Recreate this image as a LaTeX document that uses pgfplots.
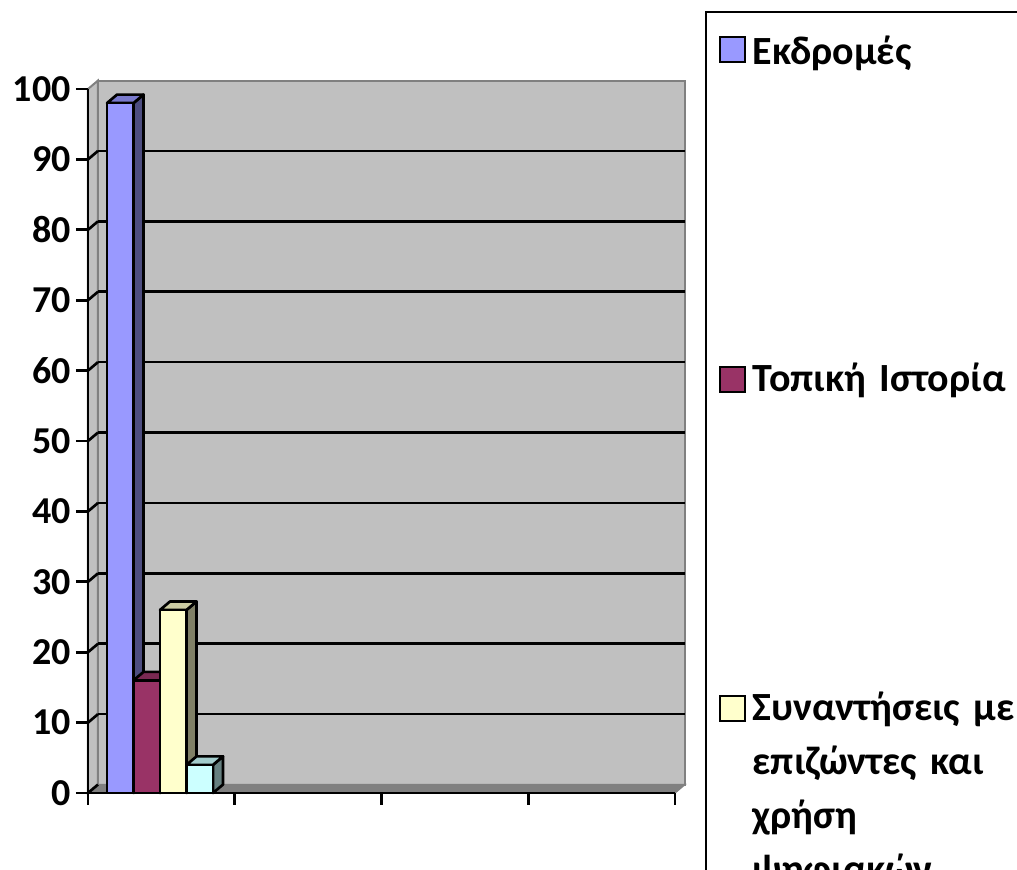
\documentclass[border=0pt]{standalone}
\usepackage{fontspec}
\setmainfont{Carlito}
\usepackage{pgfplots}
\pgfplotsset{compat=1.18}

\definecolor{bluefront}{HTML}{9999FF}
\definecolor{blueside}{HTML}{4D4D80}
\definecolor{bluetop}{HTML}{7A7ACC}
\definecolor{marfront}{HTML}{993366}
\definecolor{marside}{HTML}{4D1A33}
\definecolor{martop}{HTML}{7A2952}
\definecolor{yelfront}{HTML}{FFFFCC}
\definecolor{yelside}{HTML}{808066}
\definecolor{yeltop}{HTML}{CCCCA3}
\definecolor{cyafront}{HTML}{CCFFFF}
\definecolor{cyaside}{HTML}{668080}
\definecolor{cyatop}{HTML}{A3CCCC}
\definecolor{wallgray}{HTML}{C0C0C0}
\definecolor{floorgray}{HTML}{808080}

\newcommand{\ls}{\rule[-8pt]{0pt}{32pt}}

\begin{document}
\begin{tikzpicture}
\useasboundingbox (0,0) rectangle (762.75pt,652.5pt);
\begin{axis}[
  at={(66pt,57.75pt)}, anchor=south west,
  scale only axis, width=440.25pt, height=528pt,
  xmin=0, xmax=4, ymin=0, ymax=100,
  clip=false,
  axis on top,
  axis lines*=left,
  axis line style={line width=2pt, black},
  tick align=outside,
  major tick length=9pt,
  tick style={line width=2pt, black},
  xtick={0,1,2,3,4}, xticklabels={},
  ytick={0,10,...,100},
  yticklabel style={font=\fontsize{28.5}{28.5}\selectfont\bfseries, anchor=east, inner sep=0pt, xshift=-3.75pt},
  /pgf/number format/assume math mode=true,
  legend cell align=left,
  legend style={at={(1.0511,1.1108)}, anchor=north west, draw=black, line width=1.5pt,
    inner xsep=9.75pt, inner ysep=0pt, row sep=0pt, column sep=5pt,
    font=\fontsize{30}{40.5}\selectfont\bfseries,
    nodes={inner sep=0pt, text width=205pt, align=left}},
]
% back wall
\addplot[forget plot, fill=wallgray, draw=floorgray, line width=1.5pt] coordinates {(0.068,1.2) (4.068,1.2) (4.068,101.2) (0.068,101.2)} -- cycle;
% side wall
\addplot[forget plot, fill=wallgray, draw=floorgray, line width=1.5pt] coordinates {(0,0) (0.068,1.2) (0.068,101.2) (0,100)} -- cycle;
% floor
\addplot[forget plot, fill=floorgray, draw=floorgray, line width=1pt] coordinates {(0,0) (4,0) (4.068,1.2) (0.068,1.2)} -- cycle;
% gridlines on back wall
\addplot[forget plot, black, line width=2pt, unbounded coords=jump] coordinates {
(0.068,11.2) (4.068,11.2) (1,nan)
(0.068,21.2) (4.068,21.2) (1,nan)
(0.068,31.2) (4.068,31.2) (1,nan)
(0.068,41.2) (4.068,41.2) (1,nan)
(0.068,51.2) (4.068,51.2) (1,nan)
(0.068,61.2) (4.068,61.2) (1,nan)
(0.068,71.2) (4.068,71.2) (1,nan)
(0.068,81.2) (4.068,81.2) (1,nan)
(0.068,91.2) (4.068,91.2)};
% stubs on side wall
\addplot[forget plot, black, line width=2pt, unbounded coords=jump] coordinates {
(0,0) (0.068,1.2) (0,nan)
(0,10) (0.068,11.2) (0,nan)
(0,20) (0.068,21.2) (0,nan)
(0,30) (0.068,31.2) (0,nan)
(0,40) (0.068,41.2) (0,nan)
(0,50) (0.068,51.2) (0,nan)
(0,60) (0.068,61.2) (0,nan)
(0,70) (0.068,71.2) (0,nan)
(0,80) (0.068,81.2) (0,nan)
(0,90) (0.068,91.2)};

% Blue bar (98)
\addplot[forget plot, fill=blueside, draw=black, line width=2pt, line join=round] coordinates {(0.3101,0) (0.3782,1.2) (0.3782,99.2) (0.3101,98)} -- cycle;
\addplot[forget plot, fill=bluetop, draw=black, line width=2pt, line join=round] coordinates {(0.1295,98) (0.1976,99.2) (0.3782,99.2) (0.3101,98)} -- cycle;
\addplot[ybar, bar width=0.1806, bar shift=0pt, fill=bluefront, draw=black, line width=2pt,
  legend image code/.code={\draw[fill=bluefront, draw=black, line width=1.5pt] (0pt,-17.5pt) rectangle (18.75pt,1.25pt);}]
  coordinates {(0.2198,98)};
\addlegendentry{\rule{0pt}{39pt}Εκδρομές}

% Maroon bar (16)
\addplot[forget plot, fill=marside, draw=black, line width=2pt, line join=round] coordinates {(0.4907,0) (0.5588,1.2) (0.5588,17.2) (0.4907,16)} -- cycle;
\addplot[forget plot, fill=martop, draw=black, line width=2pt, line join=round] coordinates {(0.3101,16) (0.3782,17.2) (0.5588,17.2) (0.4907,16)} -- cycle;
\addplot[ybar, bar width=0.1806, bar shift=0pt, fill=marfront, draw=black, line width=2pt,
  legend image code/.code={\draw[fill=marfront, draw=black, line width=1.5pt] (0pt,-121.875pt) rectangle (18.75pt,-103.125pt);}]
  coordinates {(0.4004,16)};
\addlegendentry{\rule{0pt}{243.75pt}Τοπική Ιστορία}

% Yellow bar (26)
\addplot[forget plot, fill=yelside, draw=black, line width=2pt, line join=round] coordinates {(0.6713,0) (0.7394,1.2) (0.7394,27.2) (0.6713,26)} -- cycle;
\addplot[forget plot, fill=yeltop, draw=black, line width=2pt, line join=round] coordinates {(0.4907,26) (0.5588,27.2) (0.7394,27.2) (0.6713,26)} -- cycle;
\addplot[ybar, bar width=0.1806, bar shift=0pt, fill=yelfront, draw=black, line width=2pt,
  legend image code/.code={\draw[fill=yelfront, draw=black, line width=1.5pt] (0pt,-122.625pt) rectangle (18.75pt,-103.875pt);}]
  coordinates {(0.5810,26)};
\addlegendentry{\rule{0pt}{245.25pt}Συναντήσεις με\\\ls επιζώντες και\\\ls χρήση\\\ls ψηφιακών}

% Cyan bar (4)
\addplot[forget plot, fill=cyaside, draw=black, line width=2pt, line join=round] coordinates {(0.8519,0) (0.9200,1.2) (0.9200,5.2) (0.8519,4)} -- cycle;
\addplot[forget plot, fill=cyatop, draw=black, line width=2pt, line join=round] coordinates {(0.6713,4) (0.7394,5.2) (0.9200,5.2) (0.8519,4)} -- cycle;
\addplot[forget plot, ybar, bar width=0.1806, bar shift=0pt, fill=cyafront, draw=black, line width=2pt]
  coordinates {(0.7616,4)};

% spacer row so that the legend box runs on past the bottom edge
\addlegendimage{empty legend}
\addlegendentry{\rule{0pt}{300pt}}
\end{axis}
\end{tikzpicture}
\end{document}
